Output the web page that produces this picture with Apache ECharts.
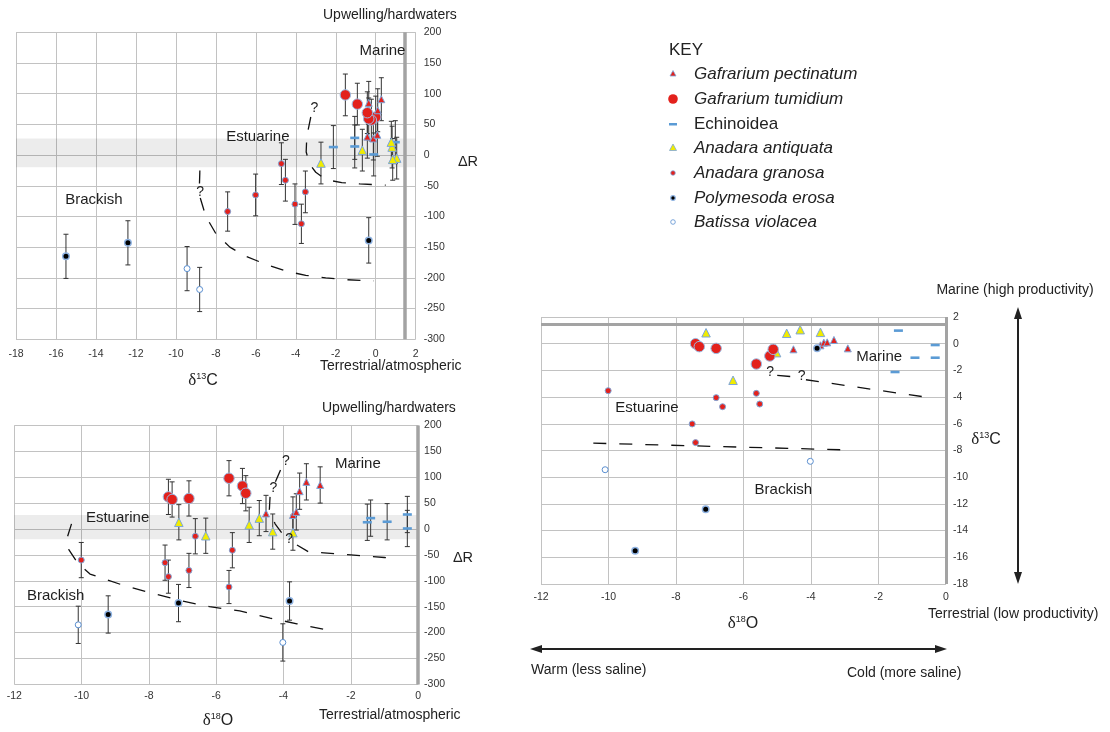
<!DOCTYPE html>
<html><head><meta charset="utf-8">
<script src="https://cdn.jsdelivr.net/npm/echarts@6/dist/echarts.min.js"></script>
<style>html,body{margin:0;padding:0;background:#fff}#c{width:1110px;height:732px}</style>
</head><body><div id="c"></div>
<script>
// Each record: [δ18O, δ13C, ΔR, ΔR error]
const gafrariumPectinatum = [[-4.52,-0.42,30,35],[-3.72,-0.12,27,35],[-3.62,0.08,33,35],[-3.52,0.10,73,35],[-3.32,0.28,91,35],[-2.91,-0.35,85,35]];
const gafrariumTumidium = [[-7.42,0.00,62,34],[-7.31,-0.22,57,34],[-6.81,-0.35,59,34],[-5.62,-1.52,98,34],[-5.22,-0.92,83,34],[-5.12,-0.42,69,34]];
const echinoidea = [[-1.51,-2.12,13,35],[-1.41,0.98,21,35],[-0.92,-1.05,14,35],[-0.32,-1.05,28,35],[-0.32,-0.10,1,35]];
const anadaraAntiquata = [[-7.11,0.82,13,34],[-6.31,-2.74,-13,34],[-5.02,-0.67,8,34],[-4.72,0.78,21,34],[-4.32,1.05,-5,34],[-3.72,0.85,-7,34]];
const anadaraGranosa = [[-10.01,-3.52,-60,34],[-6.81,-4.04,-80,33],[-6.62,-4.72,-14,34],[-5.62,-3.72,-112,32],[-5.52,-4.52,-41,34],[-7.52,-6.01,-65,34],[-7.42,-7.41,-92,32]];
const polymesodaErosa = [[-3.82,-0.35,-139,37],[-7.12,-12.4,-143,36],[-9.21,-15.5,-165,36]];
const batissaViolacea = [[-10.10,-9.44,-185,36],[-4.02,-8.81,-219,36]];

// Axis ranges / ticks
const d13CRange = [-18, 2], dRRange = [-300, 200], d18ORange = [-12, 0], d13CRange2 = [-18, 2];
const hardwaterBand = [-20, 27];
const p1Boundary = 1.45, p3Boundary = 1.45;

// Boundary curves
const p1Upper = [[-3.25,62],[-3.45,30],[-3.48,5],[-3.3,-15],[-3.0,-28],[-2.5,-40],[-1.7,-45],[-0.8,-47],[0.5,-49]];
const p1LowerA = [[-8.8,-25],[-8.82,-47]];
const p1LowerB = [[-8.78,-70],[-8.5,-100],[-8.0,-128],[-7.3,-150],[-6.5,-165],[-5.5,-178],[-4.5,-189],[-3.5,-196],[-2.5,-200],[-1.5,-203],[-0.1,-205]];
const p2UpperA = [[-4.24,91],[-4.05,120]];
const p2UpperB = [[-4.4,62],[-4.42,37],[-4.25,10],[-4.0,-12]];
const p2UpperC = [[-3.6,-31],[-3.26,-44],[-2.8,-46],[-2.0,-50],[-1.0,-55],[-0.65,-57]];
const p2Lower = [[-10.3,10],[-10.42,-15],[-10.38,-40],[-10.1,-67],[-9.75,-87],[-8.7,-110],[-7.85,-125],[-7.0,-139],[-6.2,-150],[-5.3,-158],[-4.4,-172],[-3.6,-183],[-2.55,-197]];
const p3UpperA = [[-5.0,-2.38],[-4.55,-2.47]];
const p3UpperB = [[-4.15,-2.7],[-0.6,-4.0]];
const p3Lower = [[-10.45,-7.45],[-3.05,-7.95]];

// Text annotations [x, y, text]
const p1Texts = [[0.34,169,'Marine'],[-5.9,29,'Estuarine'],[-14.1,-73,'Brackish']];
const p1Marks = [[-3.07,76,'?'],[-8.79,-60,'?']];
const p2Texts = [[-1.79,125,'Marine'],[-8.93,21,'Estuarine'],[-10.77,-129,'Brackish']];
const p2Marks = [[-3.93,131,'?'],[-4.3,79,'?'],[-3.83,-20,'?']];
const p3Texts = [[-1.98,-0.97,'Marine'],[-8.86,-4.84,'Estuarine'],[-4.82,-10.96,'Brackish']];
const p3Marks = [[-5.21,-2.1,'?'],[-4.28,-2.42,'?']];

const FONT = 'Liberation Sans';
const EDGE = '#7ea6d9';
const species = [
  {name:'Echinoidea', data:echinoidea, symbol:'rect', size:[9,2.6], color:'#5b9bd5', border:null},
  {name:'Anadara antiquata', data:anadaraAntiquata, symbol:'triangle', size:8.5, color:'#f1ec00', border:EDGE},
  {name:'Gafrarium tumidium', data:gafrariumTumidium, symbol:'circle', size:10.5, color:'#e3211c', border:'#9bbbe3'},
  {name:'Anadara granosa', data:anadaraGranosa, symbol:'circle', size:6, color:'#e3211c', border:EDGE},
  {name:'Gafrarium pectinatum', data:gafrariumPectinatum, symbol:'triangle', size:7, color:'#e3211c', border:EDGE},
  {name:'Polymesoda erosa', data:polymesodaErosa, symbol:'circle', size:6.5, color:'#000', border:'#8fb3e2', bw:1.5},
  {name:'Batissa violacea', data:batissaViolacea, symbol:'circle', size:6, color:'#fff', border:'#5b8fd0'}
];

const panels = [
  {gi:0, xi:1, yi:2, err:true},
  {gi:1, xi:0, yi:2, err:true},
  {gi:2, xi:0, yi:1, err:false}
];

function xAx(gi, range, margin) {
  return {type:'value', gridIndex:gi, min:range[0], max:range[1], interval:2, position:'bottom',
    axisLine:{show:false}, axisTick:{show:false},
    splitLine:{show:true, lineStyle:{color:'#c2c2c2', width:1}},
    axisLabel:{fontSize:10.5, color:'#333', fontFamily:FONT, margin:margin}};
}
function yAx(gi, range, interval, margin) {
  return {type:'value', gridIndex:gi, min:range[0], max:range[1], interval:interval, position:'right',
    axisLine:{show:false}, axisTick:{show:false},
    splitLine:{show:true, lineStyle:{color:'#c2c2c2', width:1}},
    axisLabel:{fontSize:10.5, color:'#333', fontFamily:FONT, margin:margin}};
}

function errRender(params, api) {
  const x = api.value(0), lo = api.value(1), hi = api.value(2);
  const a = api.coord([x, hi]), b = api.coord([x, lo]);
  const w = 2.5, st = {stroke:'#333', lineWidth:1};
  return {type:'group', children:[
    {type:'line', shape:{x1:a[0], y1:a[1], x2:b[0], y2:b[1]}, style:st},
    {type:'line', shape:{x1:a[0]-w, y1:a[1], x2:a[0]+w, y2:a[1]}, style:st},
    {type:'line', shape:{x1:b[0]-w, y1:b[1], x2:b[0]+w, y2:b[1]}, style:st}
  ]};
}

const series = [];
panels.forEach(p => {
  const mk = {type:'line', xAxisIndex:p.gi, yAxisIndex:p.gi, data:[], silent:true, symbol:'none', z:1};
  if (p.gi === 0) {
    mk.markArea = {silent:true, itemStyle:{color:'rgba(0,0,0,0.075)'}, data:[[{yAxis:hardwaterBand[0]},{yAxis:hardwaterBand[1]}]]};
    mk.markLine = {silent:true, symbol:'none', label:{show:false}, lineStyle:{color:'#a3a3a3', width:3.5, type:'solid'}, data:[{xAxis:p1Boundary}]};
  } else if (p.gi === 1) {
    mk.markArea = {silent:true, itemStyle:{color:'rgba(0,0,0,0.075)'}, data:[[{yAxis:hardwaterBand[0]},{yAxis:hardwaterBand[1]}]]};
    mk.markLine = {silent:true, symbol:'none', label:{show:false}, lineStyle:{color:'#a3a3a3', width:3.5, type:'solid'}, data:[{xAxis:d18ORange[1]}]};
  } else {
    mk.markLine = {silent:true, symbol:'none', label:{show:false}, lineStyle:{color:'#a3a3a3', width:3, type:'solid'}, data:[{xAxis:d18ORange[1]},{yAxis:p3Boundary}]};
  }
  series.push(mk);
  if (p.err) {
    species.forEach(s => {
      series.push({type:'custom', xAxisIndex:p.gi, yAxisIndex:p.gi, renderItem:errRender, silent:true, z:2,
        encode:{x:0, y:[1,2]},
        data:s.data.map(r => [r[p.xi], r[2]-r[3], r[2]+r[3]])});
    });
  }
});

function dash(gi, pts) {
  return {type:'line', xAxisIndex:gi, yAxisIndex:gi, data:pts, symbol:'none', silent:true, z:3,
    lineStyle:{color:'#111', width:1.3, type:[13,13]}};
}
[[0,p1Upper],[0,p1LowerA],[0,p1LowerB],[1,p2UpperA],[1,p2UpperB],[1,p2UpperC],[1,p2Lower],[2,p3UpperA],[2,p3UpperB],[2,p3Lower]]
  .forEach(([gi, pts]) => series.push(dash(gi, pts)));

panels.forEach(p => {
  species.forEach(s => {
    series.push({type:'scatter', name:s.name, xAxisIndex:p.gi, yAxisIndex:p.gi, z:4, silent:true,
      symbol:s.symbol, symbolSize:s.size,
      itemStyle:{color:s.color, borderColor:s.border || s.color, borderWidth:s.border ? (s.bw || 1) : 0, opacity:1},
      data:s.data.map(r => [r[p.xi], r[p.yi]])});
  });
});

function texts(gi, items, size) {
  return {type:'scatter', xAxisIndex:gi, yAxisIndex:gi, symbol:'circle', symbolSize:0.01, itemStyle:{color:'#fff', opacity:1}, silent:true, z:6,
    data:items, label:{show:true, position:'inside', formatter:q => q.data[2], fontSize:size, color:'#1e1e1e', fontFamily:FONT,
      textBorderWidth:0, textBorderColor:'transparent', opacity:1}};
}
series.push(texts(0,p1Texts,15), texts(0,p1Marks,14), texts(1,p2Texts,15), texts(1,p2Marks,14), texts(2,p3Texts,15), texts(2,p3Marks,14));

const g = [];
function txt(x, y, text, size, align, extra) {
  g.push({type:'text', x:x, y:y, silent:true, style:Object.assign({text:text, fontSize:size, fontFamily:FONT, fill:'#222', align:align || 'left', verticalAlign:'middle'}, extra || {})});
}
function delta(x, y, iso, el) {
  g.push({type:'text', x:x, y:y, silent:true, style:{
    text:'{d|δ}{s|' + iso + '}{c|' + el + '}', align:'center', verticalAlign:'middle', fill:'#222',
    rich:{d:{fontFamily:'Liberation Serif', fontSize:17, fill:'#222'}, s:{fontFamily:FONT, fontSize:9, fill:'#222', verticalAlign:'top', lineHeight:16}, c:{fontFamily:FONT, fontSize:16, fill:'#222'}}}});
}
txt(323, 15, 'Upwelling/hardwaters', 14);
txt(468, 162, 'ΔR', 14.5, 'center');
txt(320, 366, 'Terrestrial/atmospheric', 14);
delta(203, 381, '13', 'C');
txt(322, 408, 'Upwelling/hardwaters', 14);
txt(463, 558, 'ΔR', 14.5, 'center');
txt(319, 715, 'Terrestrial/atmospheric', 14);
delta(218, 721, '18', 'O');
delta(743, 624, '18', 'O');
delta(986, 440, '13', 'C');
txt(1015, 290, 'Marine (high productivity)', 14, 'center');
txt(928, 614, 'Terrestrial (low productivity)', 14);
txt(531, 670, 'Warm (less saline)', 14);
txt(847, 673, 'Cold (more saline)', 14);

const AC = '#222';
g.push({type:'line', silent:true, shape:{x1:541, y1:649, x2:936, y2:649}, style:{stroke:AC, lineWidth:2}});
g.push({type:'polygon', silent:true, shape:{points:[[530,649],[542,645],[542,653]]}, style:{fill:AC}});
g.push({type:'polygon', silent:true, shape:{points:[[947,649],[935,645],[935,653]]}, style:{fill:AC}});
g.push({type:'line', silent:true, shape:{x1:1018, y1:318, x2:1018, y2:573}, style:{stroke:AC, lineWidth:2}});
g.push({type:'polygon', silent:true, shape:{points:[[1018,307],[1014,319],[1022,319]]}, style:{fill:AC}});
g.push({type:'polygon', silent:true, shape:{points:[[1018,584],[1014,572],[1022,572]]}, style:{fill:AC}});

txt(669, 50, 'KEY', 17);
const keyY = [74, 99, 124, 148, 173, 198, 222];
const keyOrder = ['Gafrarium pectinatum','Gafrarium tumidium','Echinoidea','Anadara antiquata','Anadara granosa','Polymesoda erosa','Batissa violacea'];
keyOrder.forEach((n, i) => {
  const y = keyY[i], x = 673;
  const s = species.find(q => q.name === n);
  if (n === 'Gafrarium pectinatum') g.push({type:'polygon', silent:true, shape:{points:[[x,y-3.5],[x-3,y+2],[x+3,y+2]]}, style:{fill:s.color, stroke:s.border, lineWidth:0.8}});
  else if (n === 'Anadara antiquata') g.push({type:'polygon', silent:true, shape:{points:[[x,y-4],[x-3.5,y+2.5],[x+3.5,y+2.5]]}, style:{fill:s.color, stroke:s.border, lineWidth:0.8}});
  else if (n === 'Echinoidea') g.push({type:'rect', silent:true, shape:{x:x-4, y:y-1, width:8, height:2.5}, style:{fill:s.color}});
  else if (n === 'Gafrarium tumidium') g.push({type:'circle', silent:true, shape:{cx:x, cy:y, r:4.8}, style:{fill:s.color}});
  else g.push({type:'circle', silent:true, shape:{cx:x, cy:y, r:2.3}, style:{fill:s.color, stroke:s.border, lineWidth:n === 'Polymesoda erosa' ? 1.2 : 0.8}});
  txt(694, y, n, 17, 'left', {fontStyle: n === 'Echinoidea' ? 'normal' : 'italic'});
});

const option = {
  backgroundColor:'#fff', animation:false,
  grid:[
    {left:16, top:32.3, width:399.7, height:306.9, containLabel:false, outerBoundsMode:'none'},
    {left:14.3, top:425.4, width:403.8, height:259, containLabel:false, outerBoundsMode:'none'},
    {left:541, top:317, width:405, height:267, containLabel:false, outerBoundsMode:'none'}
  ],
  xAxis:[xAx(0, d13CRange, 9), xAx(1, d18ORange, 6), xAx(2, d18ORange, 8)],
  yAxis:[yAx(0, dRRange, 50, 8), yAx(1, dRRange, 50, 6), yAx(2, d13CRange2, 2, 7)],
  series:series,
  graphic:g
};
const chart = echarts.init(document.getElementById('c'));
chart.setOption(option);
</script>
</body></html>
